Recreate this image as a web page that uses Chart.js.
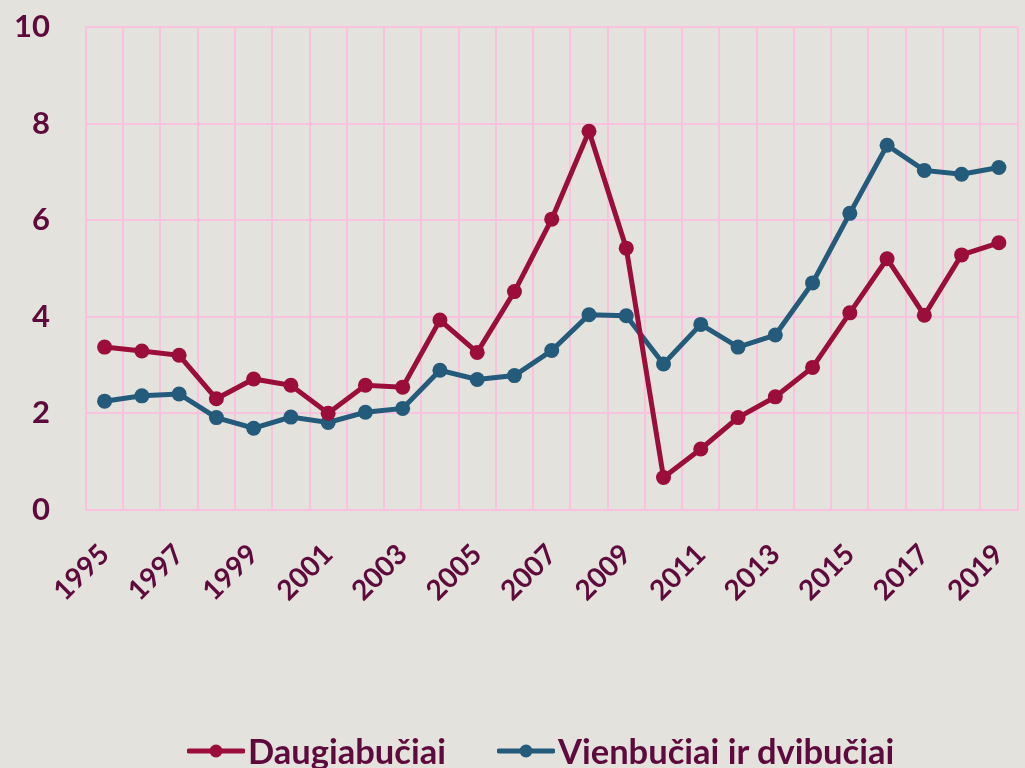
<!DOCTYPE html>
<html>
<head>
<meta charset="utf-8">
<script src="https://cdn.jsdelivr.net/npm/chart.js@4/dist/chart.umd.min.js"></script>
<style>
  html, body { margin: 0; padding: 0; background: #e3e2dd; overflow: hidden; }
  #wrap { position: absolute; left: 0; top: 0; width: 1025px; height: 768px; }
  #legend { position: absolute; left: 0; top: 731px; }
  .item { position: absolute; top: 0; display: flex; align-items: center; height: 40px;
          font-family: Lato, sans-serif; font-weight: 700; font-size: 34.5px; line-height: 40px; color: #5e0a3c; white-space: nowrap; }
  .item svg { margin-right: 3px; }
  #warm { position: absolute; left: -9999px; top: 0; font-family: Lato; font-weight: 700; }
</style>
</head>
<body>
<div id="warm">1995 10 Daugiabučiai</div>
<div id="wrap"><canvas id="c" width="1025" height="768"></canvas></div>
<div id="legend"></div>
<script>
const years = ['1995','1996','1997','1998','1999','2000','2001','2002','2003','2004','2005','2006','2007','2008','2009','2010','2011','2012','2013','2014','2015','2016','2017','2018','2019'];
const daugiabuciai = [3.37,3.29,3.20,2.30,2.71,2.58,2.00,2.58,2.54,3.93,3.26,4.52,6.02,7.84,5.42,0.67,1.26,1.91,2.34,2.95,4.08,5.20,4.03,5.28,5.53];
const vienbuciai = [2.25,2.36,2.40,1.91,1.69,1.92,1.81,2.02,2.10,2.89,2.70,2.78,3.30,4.04,4.02,3.02,3.84,3.37,3.62,4.70,6.14,7.55,7.03,6.95,7.09];
const seriesNames = ['Daugiabučiai','Vienbučiai ir dvibučiai'];
const yTicks = [0,2,4,6,8,10];
const RED = '#9b0e3b', BLUE = '#245a7a', TXT = '#5e0a3c', GRID = '#fbc2df';

let chart = null;
function build() {
  if (chart) { chart.update(); return; }
  chart = new Chart(document.getElementById('c'), {
    type: 'line',
    data: { labels: years, datasets: [
        { label: seriesNames[0], data: daugiabuciai, borderColor: RED, backgroundColor: RED, borderWidth: 5, pointRadius: 7.5, pointHoverRadius: 7.5, pointBorderWidth: 0 },
        { label: seriesNames[1], data: vienbuciai, borderColor: BLUE, backgroundColor: BLUE, borderWidth: 5, pointRadius: 7.5, pointHoverRadius: 7.5, pointBorderWidth: 0 } ] },
    options: {
      responsive: false, animation: false, devicePixelRatio: 1,
      layout: { padding: { left: 14, right: 0, top: 27, bottom: 160.5 } },
      plugins: { legend: { display: false }, tooltip: { enabled: false } },
      scales: {
        x: { offset: true,
          grid: { offset: true, color: GRID, lineWidth: 2, drawTicks: true, tickLength: 28, tickColor: 'rgba(0,0,0,0)' }, border: { color: GRID, width: 2 },
          ticks: { autoSkip: false, minRotation: 45, maxRotation: 45, padding: 0, color: TXT, font: { family: 'Lato', weight: 'bold', size: 28 },
            callback: function(v, i) { return i % 2 === 0 ? years[i] : ''; } } },
        y: { min: 0, max: 10, afterBuildTicks: function(s) { s.ticks = yTicks.map(v => ({ value: v })); },
          grid: { color: GRID, lineWidth: 2, drawTicks: true, tickLength: 36, tickColor: 'rgba(0,0,0,0)' }, border: { color: GRID, width: 2 },
          ticks: { padding: 0, color: TXT, font: { family: 'Lato', weight: 'bold', size: 31 } } }
      }
    }
  });
  const legend = document.getElementById('legend');
  [[seriesNames[0], RED, 187], [seriesNames[1], BLUE, 497]].forEach(function(p) {
    const item = document.createElement('div');
    item.className = 'item';
    item.style.left = p[2] + 'px';
    item.innerHTML = '<svg width="58" height="16"><line x1="2" y1="8" x2="56" y2="8" stroke="' + p[1] +
      '" stroke-width="5" stroke-linecap="round"/><circle cx="29" cy="8" r="6.5" fill="' + p[1] + '"/></svg>';
    const t = document.createElement('span');
    t.textContent = p[0];
    item.appendChild(t);
    legend.appendChild(item);
  });
}
Promise.all([document.fonts.load('bold 31px Lato'), document.fonts.load('bold 28px Lato'), document.fonts.ready])
  .then(build, build)
  .then(function() { setTimeout(build, 50); });
</script>
</body>
</html>
